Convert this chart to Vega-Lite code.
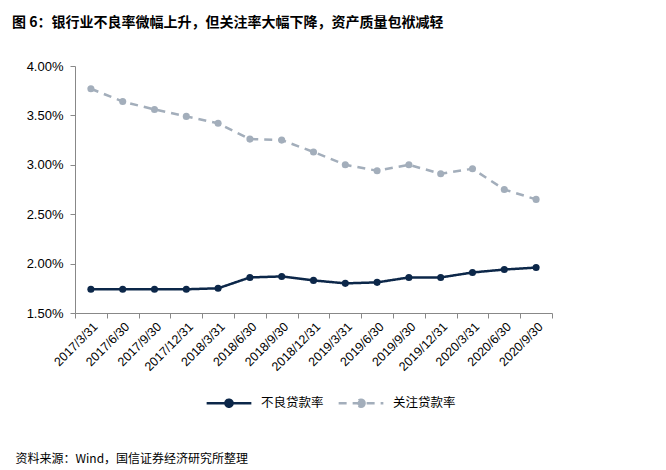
{
  "$schema": "https://vega.github.io/schema/vega-lite/v6.json",
  "width": 477,
  "height": 247,
  "autosize": {"type": "none"},
  "padding": {"left": 75, "top": 66, "right": 114, "bottom": 157},
  "background": "white",
  "config": {"view": {"stroke": null}, "font": "Liberation Sans"},
  "title": {
    "text": "图 6：银行业不良率微幅上升，但关注率大幅下降，资产质量包袱减轻",
    "anchor": "start",
    "frame": "group",
    "dx": -63,
    "offset": 23,
    "baseline": "middle",
    "font": "Noto Sans CJK SC",
    "fontSize": 14,
    "fontWeight": "bold",
    "color": "#000000"
  },
  "data": {
    "values": [
      {"date": "2017/3/31", "series": "不良贷款率", "rate": 0.0174},
      {"date": "2017/6/30", "series": "不良贷款率", "rate": 0.0174},
      {"date": "2017/9/30", "series": "不良贷款率", "rate": 0.0174},
      {"date": "2017/12/31", "series": "不良贷款率", "rate": 0.0174},
      {"date": "2018/3/31", "series": "不良贷款率", "rate": 0.0175},
      {"date": "2018/6/30", "series": "不良贷款率", "rate": 0.0186},
      {"date": "2018/9/30", "series": "不良贷款率", "rate": 0.0187},
      {"date": "2018/12/31", "series": "不良贷款率", "rate": 0.0183},
      {"date": "2019/3/31", "series": "不良贷款率", "rate": 0.0180},
      {"date": "2019/6/30", "series": "不良贷款率", "rate": 0.0181},
      {"date": "2019/9/30", "series": "不良贷款率", "rate": 0.0186},
      {"date": "2019/12/31", "series": "不良贷款率", "rate": 0.0186},
      {"date": "2020/3/31", "series": "不良贷款率", "rate": 0.0191},
      {"date": "2020/6/30", "series": "不良贷款率", "rate": 0.0194},
      {"date": "2020/9/30", "series": "不良贷款率", "rate": 0.0196},
      {"date": "2017/3/31", "series": "关注贷款率", "rate": 0.0377},
      {"date": "2017/6/30", "series": "关注贷款率", "rate": 0.0364},
      {"date": "2017/9/30", "series": "关注贷款率", "rate": 0.0356},
      {"date": "2017/12/31", "series": "关注贷款率", "rate": 0.0349},
      {"date": "2018/3/31", "series": "关注贷款率", "rate": 0.0342},
      {"date": "2018/6/30", "series": "关注贷款率", "rate": 0.0326},
      {"date": "2018/9/30", "series": "关注贷款率", "rate": 0.0325},
      {"date": "2018/12/31", "series": "关注贷款率", "rate": 0.0313},
      {"date": "2019/3/31", "series": "关注贷款率", "rate": 0.0300},
      {"date": "2019/6/30", "series": "关注贷款率", "rate": 0.0294},
      {"date": "2019/9/30", "series": "关注贷款率", "rate": 0.0300},
      {"date": "2019/12/31", "series": "关注贷款率", "rate": 0.0291},
      {"date": "2020/3/31", "series": "关注贷款率", "rate": 0.0296},
      {"date": "2020/6/30", "series": "关注贷款率", "rate": 0.0275},
      {"date": "2020/9/30", "series": "关注贷款率", "rate": 0.0265}
    ]
  },
  "encoding": {
    "x": {
      "field": "date",
      "type": "ordinal",
      "sort": null,
      "scale": {"type": "band", "paddingInner": 0, "paddingOuter": 0},
      "axis": {
        "title": "资料来源：Wind，国信证券经济研究所整理",
        "titleFont": "Noto Sans CJK SC",
        "titleFontSize": 12,
        "titleFontWeight": "normal",
        "titleColor": "#000000",
        "titleAnchor": "start",
        "titleAlign": "left",
        "titleBaseline": "middle",
        "titleX": -60,
        "titleY": 145,
        "labelAngle": -45,
        "labelAlign": "right",
        "labelBaseline": "top",
        "labelFontSize": 12.5,
        "labelColor": "#000000",
        "labelPadding": 2,
        "tickBand": "extent",
        "tickSize": 5,
        "tickColor": "#888888",
        "domainColor": "#888888",
        "grid": false
      }
    },
    "y": {
      "field": "rate",
      "type": "quantitative",
      "scale": {"domain": [0.015, 0.04]},
      "axis": {
        "title": null,
        "format": ".2%",
        "values": [0.015, 0.02, 0.025, 0.03, 0.035, 0.04],
        "labelFontSize": 13,
        "labelColor": "#000000",
        "labelPadding": 7,
        "tickSize": 5,
        "tickColor": "#888888",
        "domainColor": "#888888",
        "grid": false
      }
    },
    "color": {
      "field": "series",
      "type": "nominal",
      "sort": ["不良贷款率", "关注贷款率"],
      "scale": {"domain": ["不良贷款率", "关注贷款率"], "range": ["#0c2749", "#a3aebb"]},
      "legend": {
        "title": null,
        "orient": "none",
        "legendX": 130,
        "legendY": 313,
        "direction": "horizontal",
        "symbolType": "M-1,0H1M0.16,0A0.16,0.16,0,1,1,-0.16,0A0.16,0.16,0,1,1,0.16,0",
        "symbolSize": 2000,
        "symbolStrokeWidth": 2.5,
        "labelFont": "Noto Sans CJK SC",
        "labelFontSize": 12.5,
        "labelColor": "#000000",
        "labelOffset": 8,
        "columnPadding": 9,
        "encode": {"symbols": {"update": {"fill": {"scale": "color", "field": "value"}}}}
      }
    },
    "strokeDash": {
      "field": "series",
      "type": "nominal",
      "sort": ["不良贷款率", "关注贷款率"],
      "scale": {"domain": ["不良贷款率", "关注贷款率"], "range": [[1, 0], [8, 6]]},
      "legend": null
    }
  },
  "layer": [
    {"mark": {"type": "line", "strokeWidth": 2.5}},
    {"mark": {"type": "point", "filled": true, "opacity": 1, "size": 50}, "encoding": {"strokeDash": {"value": [1, 0]}}}
  ]
}
